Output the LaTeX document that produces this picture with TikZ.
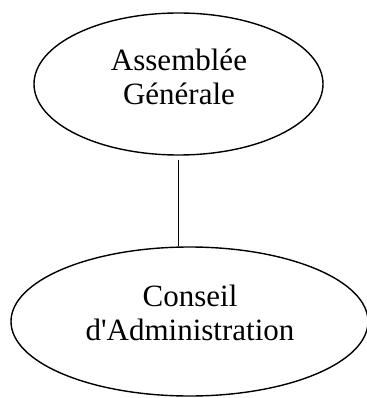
\documentclass[tikz,border=0pt]{standalone}
\usepackage{fontspec}
\setmainfont{Liberation Serif}
\usetikzlibrary{shapes.geometric}
\tikzset{
  orgbox/.style={draw, ellipse, line width=1.4pt, inner sep=0pt},
  orgtext/.style={font=\fontsize{31}{34}\selectfont, align=center, inner sep=0pt},
  link/.style={line width=1.4pt}
}
\begin{document}
\begin{tikzpicture}[x=1pt,y=-1pt]
\useasboundingbox (0,0) rectangle (366,398);
\node[orgbox, minimum width=289pt, minimum height=142pt] (ag) at (178.5,84) {};
\node[orgbox, minimum width=357pt, minimum height=149pt] (ca) at (189.5,321.5) {};
\node[orgtext] (agt) at (179,77) {Assemblée\\Générale};
\node[orgtext] (cat) at (190,313) {Conseil\\d\textquotesingle Administration};
\draw[link] ([yshift=-4pt]ag.south) -- (ag.south |- ca.north);
\end{tikzpicture}
\end{document}
